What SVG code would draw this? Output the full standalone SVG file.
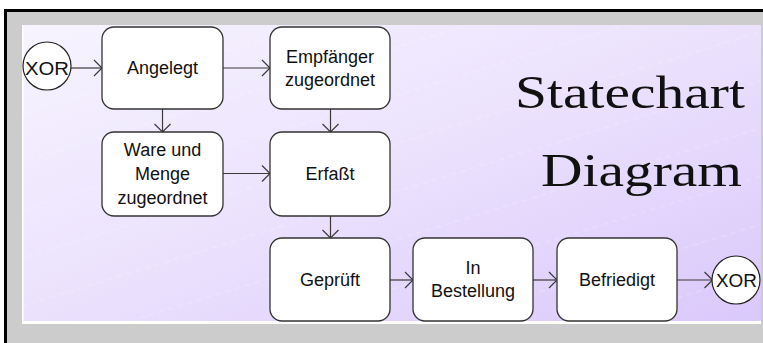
<svg xmlns="http://www.w3.org/2000/svg" width="763" height="343" viewBox="0 0 763 343">
  <style>
    .state { fill: #ffffff; stroke: #333333; stroke-width: 1.3; }
    .pseudo { fill: #ffffff; stroke: #222222; stroke-width: 1.2; }
    .label { font-family: "Liberation Sans", Arial, sans-serif; font-size: 18px; fill: #111111; text-anchor: middle; }
    .xor { font-family: "Liberation Sans", Arial, sans-serif; font-size: 19px; fill: #111111; }
    .title { font-family: "Liberation Serif", "Times New Roman", serif; font-size: 47px; fill: #111111; }
    .flow { fill: none; stroke: #3a3a3a; stroke-width: 1.2; marker-end: url(#chevron); }
  </style>
  <defs>
    <linearGradient id="panelFill" x1="0" y1="0" x2="1" y2="1">
      <stop offset="0" stop-color="#f7f4ff"/>
      <stop offset="0.5" stop-color="#ebe1fd"/>
      <stop offset="1" stop-color="#dac8fb"/>
    </linearGradient>
    <pattern id="streaks" patternUnits="userSpaceOnUse" width="140" height="46" patternTransform="rotate(-17)">
      <line x1="0" y1="23" x2="140" y2="23" stroke="#ffffff" stroke-width="0.8" stroke-dasharray="6 4" opacity="0.35"/>
    </pattern>
    <marker id="chevron" markerUnits="userSpaceOnUse" markerWidth="10" markerHeight="18" refX="8" refY="8" orient="auto" overflow="visible">
      <path d="M0,0 L8,8 L0,16" fill="none" stroke="#3a3a3a" stroke-width="1.2"/>
    </marker>
  </defs>

  <!-- frame -->
  <rect x="0" y="0" width="763" height="343" fill="#ffffff"/>
  <rect x="4" y="9" width="759" height="334" fill="#cccccc"/>
  <rect x="4" y="9" width="759" height="3" fill="#000000"/>
  <rect x="4" y="9" width="3" height="334" fill="#000000"/>
  <rect x="22" y="25" width="739" height="299" fill="#ffffff"/>
  <rect x="23.5" y="25" width="737.5" height="296" fill="url(#panelFill)"/>
  <rect x="23.5" y="25" width="737.5" height="296" fill="url(#streaks)"/>

  <!-- title -->
  <text class="title" x="515" y="108" textLength="230" lengthAdjust="spacingAndGlyphs">Statechart</text>
  <text class="title" x="541" y="186" textLength="201" lengthAdjust="spacingAndGlyphs">Diagram</text>

  <!-- connectors -->
  <g id="connectors">
    <line class="flow" x1="71" y1="68" x2="102" y2="68"/>
    <line class="flow" x1="223" y1="68" x2="270" y2="68"/>
    <line class="flow" x1="162.5" y1="109" x2="162.5" y2="132"/>
    <line class="flow" x1="330.5" y1="109" x2="330.5" y2="132"/>
    <line class="flow" x1="223" y1="173.5" x2="270" y2="173.5"/>
    <line class="flow" x1="330.5" y1="216" x2="330.5" y2="238"/>
    <line class="flow" x1="390" y1="280" x2="413" y2="280"/>
    <line class="flow" x1="533" y1="280" x2="557" y2="280"/>
    <line class="flow" x1="677" y1="280" x2="712.5" y2="280"/>
  </g>

  <!-- states -->
  <g id="start-xor">
    <circle class="pseudo" cx="47" cy="66" r="24"/>
    <text class="xor" x="25" y="75" textLength="44" lengthAdjust="spacingAndGlyphs">XOR</text>
  </g>
  <g id="angelegt">
    <rect class="state" x="102" y="27" width="121" height="82" rx="12"/>
    <text class="label" x="162.5" y="74">Angelegt</text>
  </g>
  <g id="empfaenger-zugeordnet">
    <rect class="state" x="270" y="27" width="120" height="82" rx="12"/>
    <text class="label" x="330" y="62.5">Empfänger</text>
    <text class="label" x="330" y="86">zugeordnet</text>
  </g>
  <g id="ware-menge-zugeordnet">
    <rect class="state" x="102" y="132" width="121" height="84" rx="12"/>
    <text class="label" x="162.5" y="155.5">Ware und</text>
    <text class="label" x="162.5" y="179.5">Menge</text>
    <text class="label" x="162.5" y="203.5">zugeordnet</text>
  </g>
  <g id="erfasst">
    <rect class="state" x="270" y="132" width="120" height="84" rx="12"/>
    <text class="label" x="330" y="180">Erfaßt</text>
  </g>
  <g id="geprueft">
    <rect class="state" x="270" y="238" width="120" height="83" rx="12"/>
    <text class="label" x="330" y="285.5">Geprüft</text>
  </g>
  <g id="in-bestellung">
    <rect class="state" x="413" y="238" width="120" height="83" rx="12"/>
    <text class="label" x="473" y="273.5">In</text>
    <text class="label" x="473" y="297">Bestellung</text>
  </g>
  <g id="befriedigt">
    <rect class="state" x="557" y="238" width="120" height="83" rx="12"/>
    <text class="label" x="617" y="285.5">Befriedigt</text>
  </g>
  <g id="end-xor">
    <circle class="pseudo" cx="736" cy="280" r="24"/>
    <text class="xor" x="716" y="287" textLength="41" lengthAdjust="spacingAndGlyphs">XOR</text>
  </g>
</svg>
